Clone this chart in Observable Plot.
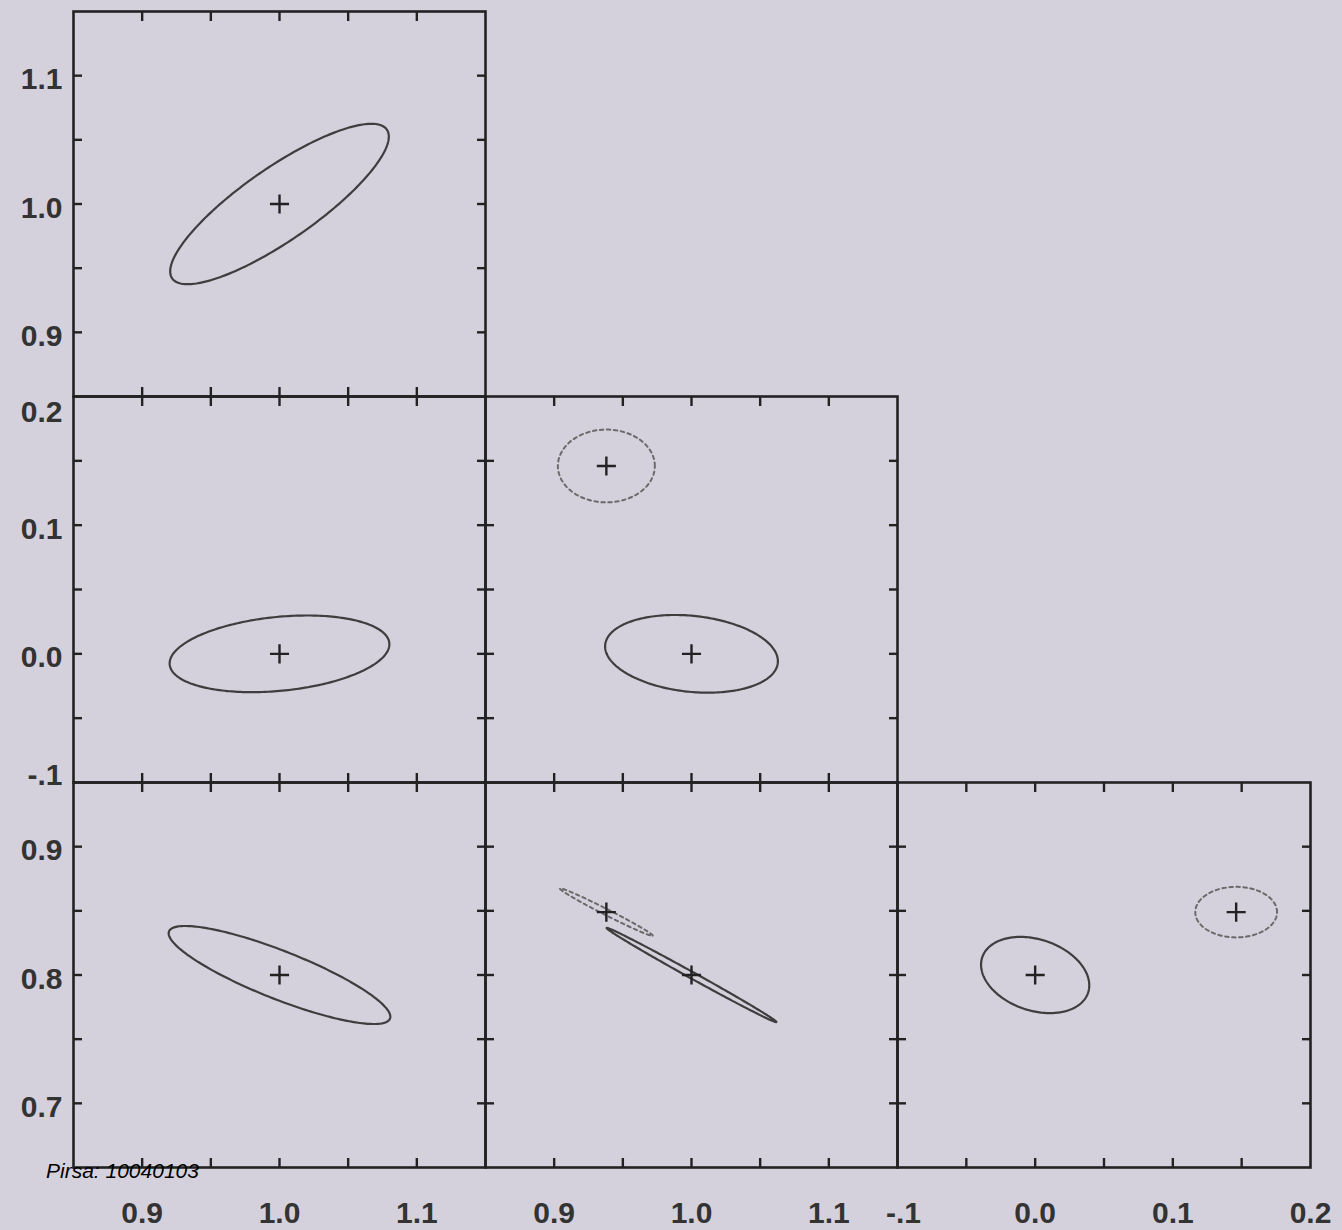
<!DOCTYPE html>
<html>
<head>
<meta charset="utf-8">
<script src="https://cdn.jsdelivr.net/npm/d3@7"></script>
<script src="https://cdn.jsdelivr.net/npm/@observablehq/plot@0.6"></script>
<style>
html, body { margin: 0; padding: 0; background: #d5d1dc; }
#chart { position: relative; width: 1342px; height: 1230px; background: #d5d1dc; overflow: hidden;
  font-family: "Liberation Sans", Arial, Helvetica, sans-serif; }
#chart svg { position: absolute; }
#credit { position: absolute; left: 46px; top: 1160px; font-style: italic; font-size: 21px; color: #000;
  z-index: 5; font-family: "Liberation Sans", Arial, sans-serif; line-height: 1; }
</style>
</head>
<body>
<div id="chart"><div id="credit">Pirsa: 10040103</div></div>
<script>
// ---------- data ----------
// four parameters: p1 (x of column 1), p2 (y row 1 / x column 2), p3 (y row 2 / x column 3), p4 (y row 3)
const paramDomains = [[0.85, 1.15], [0.85, 1.15], [-0.1, 0.2], [0.65, 0.95]];
const paramTicks = [
  [0.9, 0.95, 1.0, 1.05, 1.1],
  [0.9, 0.95, 1.0, 1.05, 1.1],
  [-0.05, 0.0, 0.05, 0.1, 0.15],
  [0.7, 0.75, 0.8, 0.85, 0.9]
];
const paramLabelValues = [[0.9, 1.0, 1.1], [0.9, 1.0, 1.1], [-0.1, 0.0, 0.1, 0.2], [0.7, 0.8, 0.9]];
const paramLabelText = [["0.9", "1.0", "1.1"], ["0.9", "1.0", "1.1"], ["-.1", "0.0", "0.1", "0.2"], ["0.7", "0.8", "0.9"]];

// confidence ellipses: x parameter, y parameter, model, centre, half extents, correlation
const ellipseXParam = [0, 0, 1, 1, 0, 1, 1, 2, 2];
const ellipseYParam = [1, 2, 2, 2, 3, 3, 3, 3, 3];
const ellipseModel  = ["fiducial", "fiducial", "fiducial", "shifted", "fiducial", "fiducial", "shifted", "fiducial", "shifted"];
const ellipseCX     = [1.0, 1.0, 1.0, 0.938, 1.0, 1.0, 0.938, 0.0, 0.146];
const ellipseCY     = [1.0, 0.0, 0.0, 0.146, 0.8, 0.8, 0.849, 0.8, 0.849];
const ellipseHalfX  = [0.0796, 0.080, 0.0629, 0.0353, 0.0807, 0.0618, 0.0338, 0.0393, 0.0297];
const ellipseHalfY  = [0.0625, 0.0298, 0.0302, 0.0283, 0.0382, 0.0367, 0.0185, 0.0297, 0.0197];
const ellipseRho    = [0.84, 0.25, -0.19, 0.0, -0.85, -0.997, -0.99, -0.27, 0.0];

// ---------- layout ----------
const L = { cols: [73, 485, 897, 1310], rows: [11, 396, 782, 1167], margin: 80 };
const ink = "#222";
const labelFill = "#333";

const ellipses = ellipseXParam.map((xp, i) => ({
  id: i, xp, yp: ellipseYParam[i], model: ellipseModel[i],
  cx: ellipseCX[i], cy: ellipseCY[i], a: ellipseHalfX[i], b: ellipseHalfY[i], rho: ellipseRho[i]
}));

function outline(e) {
  const n = 240, pts = [];
  const s = Math.sqrt(1 - e.rho * e.rho);
  for (let k = 0; k <= n; k++) {
    const t = 2 * Math.PI * k / n;
    pts.push({id: e.id, model: e.model,
      x: e.cx + e.a * Math.cos(t),
      y: e.cy + e.b * (e.rho * Math.cos(t) + s * Math.sin(t))});
  }
  return pts;
}

const chart = document.getElementById("chart");

function panel(r, c) {
  const xp = c, yp = r + 1;
  const x0 = L.cols[c], x1 = L.cols[c + 1], y0 = L.rows[r], y1 = L.rows[r + 1];
  const m = L.margin;
  const els = ellipses.filter(e => e.xp === xp && e.yp === yp);
  const pts = els.flatMap(outline);
  const tickOpts = {ticks: paramTicks[xp], tickSize: -9, text: null, label: null, stroke: ink, strokeWidth: 2.4};
  const tickOptsY = {ticks: paramTicks[yp], tickSize: -9, text: null, label: null, stroke: ink, strokeWidth: 2.4};
  const marks = [
    Plot.line(pts.filter(d => d.model === "fiducial"), {x: "x", y: "y", z: "id", stroke: "#3e3e3e", strokeWidth: 2.2, curve: "linear"}),
    Plot.line(pts.filter(d => d.model === "shifted"), {x: "x", y: "y", z: "id", stroke: "#6a6a6a", strokeWidth: 2, strokeDasharray: "3.5,3.5", curve: "linear"}),
    Plot.dot(els, {x: "cx", y: "cy", symbol: "plus", r: 6.2, stroke: ink, strokeWidth: 2.4}),
    Plot.axisX({anchor: "bottom", ...tickOpts}),
    Plot.axisX({anchor: "top", ...tickOpts}),
    Plot.axisY({anchor: "left", ...tickOptsY}),
    Plot.axisY({anchor: "right", ...tickOptsY}),
    Plot.frame({stroke: ink, strokeWidth: 2.6})
  ];
  const textStyle = {fontSize: 30, fontWeight: "bold", fill: labelFill};
  if (c === 0) {
    const lab = paramLabelValues[yp].map((v, i) => ({v, t: paramLabelText[yp][i]}));
    const [lo, hi] = paramDomains[yp];
    const yl = (filter, dy) => Plot.text(lab, {filter, y: "v", text: "t", frameAnchor: "left", textAnchor: "end", dx: -11, dy, ...textStyle});
    marks.push(yl(d => d.v > lo + 1e-9 && d.v < hi - 1e-9, 4));
    marks.push(yl(d => Math.abs(d.v - hi) < 1e-9, 16));
    marks.push(yl(d => Math.abs(d.v - lo) < 1e-9, -7));
  }
  if (r === 2) {
    const lab = paramLabelValues[xp].map((v, i) => ({v, t: paramLabelText[xp][i]}));
    const [lo] = paramDomains[xp];
    marks.push(Plot.text(lab, {filter: d => Math.abs(d.v - lo) > 1e-9, x: "v", text: "t", frameAnchor: "bottom", lineAnchor: "top", dy: 34, ...textStyle}));
    marks.push(Plot.text(lab, {filter: d => Math.abs(d.v - lo) < 1e-9, x: "v", text: "t", frameAnchor: "bottom", lineAnchor: "top", dy: 34, dx: 6, ...textStyle}));
  }
  const svg = Plot.plot({
    width: x1 - x0 + 2 * m,
    height: y1 - y0 + 2 * m,
    marginLeft: m, marginRight: m, marginTop: m, marginBottom: m,
    x: {domain: paramDomains[xp]},
    y: {domain: paramDomains[yp]},
    style: {background: "transparent", overflow: "visible", maxWidth: "none", fontFamily: "'Liberation Sans', Arial, Helvetica, sans-serif"},
    marks
  });
  svg.style.left = (x0 - m) + "px";
  svg.style.top = (y0 - m) + "px";
  chart.insertBefore(svg, document.getElementById("credit"));
}

for (let r = 0; r < 3; r++) for (let c = 0; c <= r; c++) panel(r, c);
</script>
</body>
</html>
